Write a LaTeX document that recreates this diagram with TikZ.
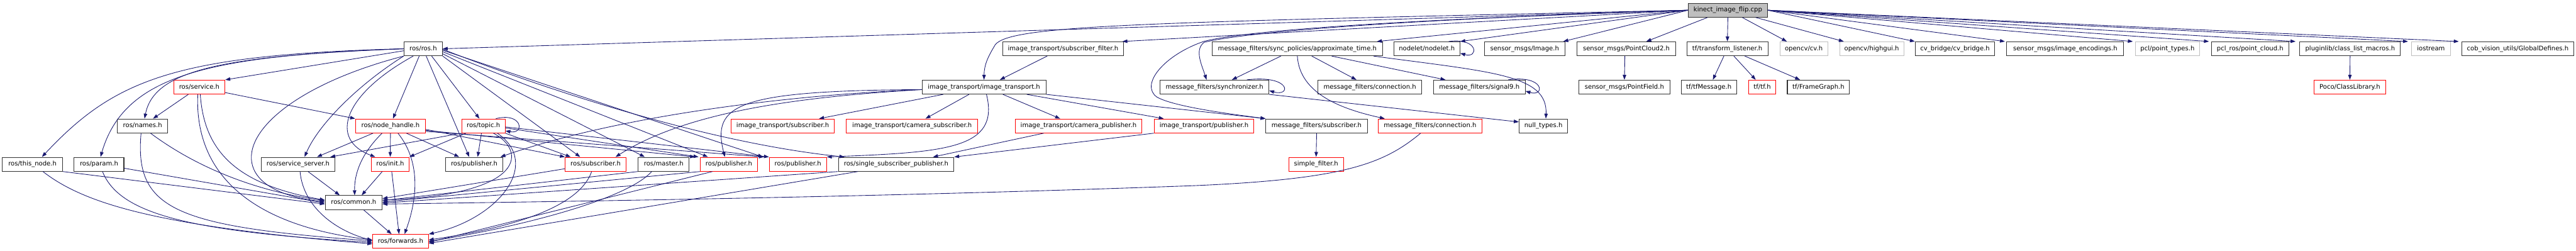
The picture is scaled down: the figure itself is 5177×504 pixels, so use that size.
\documentclass[tikz,border=0pt]{standalone}
\usepackage{fontspec}
\setmainfont{DejaVu Sans}
\usetikzlibrary{arrows.meta}
\definecolor{edgec}{RGB}{25,25,112}
\definecolor{redc}{RGB}{255,0,0}
\definecolor{grayc}{RGB}{191,191,191}
\definecolor{boxc}{RGB}{50,50,50}
\newcommand\mk[6]{\node[#5, minimum width={(#3)-(#2)}] (#1) at ({((#2)+(#3))/2},#4) {#6};}
\begin{document}
\begin{tikzpicture}[x=1pt,y=-1pt,
  box/.style={draw=boxc, line width=1.3pt, minimum height=28pt, inner sep=0pt,
    font=\fontsize{12.7}{14}\selectfont, text height=9.3pt, text depth=2.7pt, fill=white},
  rbox/.style={box, draw=redc},
  gbox/.style={box, draw=grayc},
  rootbox/.style={box, fill=grayc},
  e/.style={draw=edgec, line width=1.1pt, -{Triangle[length=10pt,width=7pt]}},
]
\useasboundingbox (0,0) rectangle (5177,504);
% row 0
\mk{root}{3393}{3552}{20.5}{rootbox}{kinect\_image\_flip.cpp}
% row 1
\mk{ros}{812}{889}{98}{box}{ros/ros.h}
\mk{itsf}{2015}{2258}{98}{box}{image\_transport/subscriber\_filter.h}
\mk{approx}{2436}{2778.5}{98}{box}{message\_filters/sync\_policies/approximate\_time.h}
\mk{nodelet}{2801}{2934}{98}{box}{nodelet/nodelet.h}
\mk{image}{2983}{3145}{98}{box}{sensor\_msgs/Image.h}
\mk{pc2}{3169}{3368}{98}{box}{sensor\_msgs/PointCloud2.h}
\mk{tfl}{3390}{3553}{98}{box}{tf/transform\_listener.h}
\mk{cv}{3577}{3673}{98}{gbox}{opencv/cv.h}
\mk{highgui}{3697}{3826}{98}{gbox}{opencv/highgui.h}
\mk{cvb}{3849}{4009}{98}{box}{cv\_bridge/cv\_bridge.h}
\mk{enc}{4033}{4268}{98}{box}{sensor\_msgs/image\_encodings.h}
\mk{pt}{4291}{4421}{98}{gbox}{pcl/point\_types.h}
\mk{pcr}{4444}{4600}{98}{box}{pcl\_ros/point\_cloud.h}
\mk{clm}{4622}{4824}{98}{box}{pluginlib/class\_list\_macros.h}
\mk{ios}{4846}{4925}{98}{gbox}{iostream}
\mk{gd}{4948}{5172}{98}{box}{cob\_vision\_utils/GlobalDefines.h}
% row 2
\mk{service}{349}{452}{175}{rbox}{ros/service.h}
\mk{it}{1853}{2102}{175}{box}{image\_transport/image\_transport.h}
\mk{sync}{2331.6}{2550}{175}{box}{message\_filters/synchronizer.h}
\mk{conn}{2649}{2857}{175}{box}{message\_filters/connection.h}
\mk{sig9}{2881}{3065}{175}{box}{message\_filters/signal9.h}
\mk{pf}{3173}{3356}{175}{box}{sensor\_msgs/PointField.h}
\mk{tfm}{3378.5}{3490}{175}{box}{tf/tfMessage.h}
\mk{tf}{3514}{3569}{175}{rbox}{tf/tf.h}
\mk{fg}{3592}{3717}{175}{box}{tf/FrameGraph.h}
\mk{poco}{4650}{4795}{175}{rbox}{Poco/ClassLibrary.h}
% row 3
\mk{names}{236}{337}{253}{box}{ros/names.h}
\mk{nh}{714.5}{855}{253}{rbox}{ros/node\_handle.h}
\mk{topic}{928}{1015}{253}{rbox}{ros/topic.h}
\mk{itsub}{1469}{1677}{253}{rbox}{image\_transport/subscriber.h}
\mk{itcs}{1701}{1965}{253}{rbox}{image\_transport/camera\_subscriber.h}
\mk{itcp}{2040}{2295}{253}{rbox}{image\_transport/camera\_publisher.h}
\mk{itp}{2319.5}{2520}{253}{rbox}{image\_transport/publisher.h}
\mk{mfsub}{2544}{2748}{253}{box}{message\_filters/subscriber.h}
\mk{connr}{2770}{2978}{253}{rbox}{message\_filters/connection.h}
\mk{null}{3053}{3150.5}{253}{box}{null\_types.h}
% row 4
\mk{thisnode}{5}{125.5}{330}{box}{ros/this\_node.h}
\mk{param}{149}{249}{330}{box}{ros/param.h}
\mk{ss}{525}{673}{330}{box}{ros/service\_server.h}
\mk{init}{746.5}{822}{330}{rbox}{ros/init.h}
\mk{pubb}{896}{1010}{330}{box}{ros/publisher.h}
\mk{sub}{1136}{1258}{330}{rbox}{ros/subscriber.h}
\mk{master}{1282.5}{1385}{330}{box}{ros/master.h}
\mk{pub1}{1407.5}{1522}{330}{rbox}{ros/publisher.h}
\mk{pub2}{1546}{1661}{330}{rbox}{ros/publisher.h}
\mk{ssp}{1685}{1917}{330}{box}{ros/single\_subscriber\_publisher.h}
\mk{sf}{2590}{2700}{330}{rbox}{simple\_filter.h}
% row 5, 6
\mk{common}{653.5}{768}{407}{box}{ros/common.h}
\mk{forwards}{749}{861}{485}{rbox}{ros/forwards.h}

% ---- edges from root
\draw[e] (root.west) -- (ros.east);
\draw[e] (root.west) -- ([xshift=-3pt]itsf.north east);
\draw[e] (root.west) .. controls (2300,45) and (2030,50) .. (2000,90) .. controls (1985,115) and (1978,130) .. (it.north);
\draw[e] (root.west) .. controls (2800,40) and (2500,65) .. (2420,85) .. controls (2400,100) and (2415,130) .. ([xshift=-16pt]sync.north);
\draw[e] (root.west) .. controls (2800,40) and (2500,62) .. (2420,83) .. controls (2340,110) and (2290,170) .. (2325,195) .. controls (2360,215) and (2480,230) .. (mfsub.north west);
\draw[e] (root.west) -- ([xshift=-12pt]approx.north east);
\draw[e] (root.west) -- (nodelet.north east);
\draw[e] (root.west) -- ([xshift=-4pt]image.north east);
\draw[e] ([xshift=-41pt]root.south) -- ([xshift=40pt]pc2.north);
\draw[e] (root.south) -- (tfl.north);
\draw[e] ([xshift=29pt]root.south) -- ([xshift=-34pt]cv.north);
\draw[e] ([xshift=56pt]root.south) -- ([xshift=-56pt]highgui.north);
\draw[e] (root.east) -- (cvb.north west);
\draw[e] (root.east) -- ([xshift=-3pt]enc.north west);
\draw[e] (root.east) -- ([xshift=-4pt]pt.north west);
\draw[e] (root.east) -- ([xshift=-4pt]pcr.north west);
\draw[e] (root.east) -- ([xshift=-8pt]clm.north west);
\draw[e] (root.east) -- ([xshift=-6pt]ios.north west);
\draw[e] (root.east) -- ([xshift=-6pt]gd.north west);

% ---- ros/ros.h
\draw[e] (ros.west) .. controls (350,110) and (230,160) .. ([xshift=19pt]thisnode.north);
\draw[e] (ros.west) .. controls (420,112) and (250,150) .. ([xshift=3pt]param.north);
\draw[e] (ros.west) .. controls (450,112) and (310,140) .. ([xshift=4pt]names.north);
\draw[e] ([yshift=-4pt]ros.west) -- (service.north east);
\draw[e] (ros.south west) .. controls (720,170) and (640,250) .. ([xshift=13pt]ss.north);
\draw[e] (ros.south west) .. controls (590,170) and (480,270) .. (510,340) .. controls (530,385) and (600,400) .. ([yshift=2pt]common.west);
\draw[e] ([xshift=-8pt]ros.south) -- ([xshift=5pt]nh.north);
\draw[e] ([xshift=-20pt]ros.south) .. controls (690,190) and (660,280) .. ([xshift=-30pt]init.north);
\draw[e] ([xshift=6pt]ros.south) -- ([xshift=-10pt]pubb.north);
\draw[e] ([xshift=17pt]ros.south) -- ([xshift=-8pt]topic.north);
\draw[e] (ros.south east) -- ([xshift=-31pt]sub.north);
\draw[e] ([yshift=-10pt]ros.east) -- ([xshift=-38pt]master.north);
\draw[e] ([yshift=-6pt]ros.east) -- ([xshift=-42pt]pub1.north);
\draw[e] ([yshift=-3pt]ros.east) -- ([xshift=-12pt]pub2.north west);
\draw[e] ([yshift=-1pt]ros.east) .. controls (1150,200) and (1450,290) .. ([xshift=-104pt]ssp.north);

% ---- ros/service.h
\draw[e] ([xshift=-22pt]service.south) -- ([xshift=21pt]names.north);
\draw[e] ([yshift=-11pt]service.east) -- (nh.north west);
\draw[e] ([xshift=2pt]service.south) .. controls (410,300) and (470,370) .. ([yshift=5pt]common.west);
\draw[e] ([xshift=-3pt]service.south) .. controls (390,360) and (520,455) .. ([yshift=3pt]forwards.west);

% ---- ros/names.h, this_node, param
\draw[e] ([xshift=16pt]names.south) .. controls (400,340) and (520,385) .. ([yshift=4pt]common.west);
\draw[e] ([xshift=-3pt]names.south) .. controls (270,420) and (350,455) .. ([yshift=1pt]forwards.west);
\draw[e] (thisnode.south east) -- ([yshift=-3pt]common.west);
\draw[e] ([xshift=21pt]thisnode.south) .. controls (170,410) and (320,455) .. ([yshift=-5pt]forwards.west);
\draw[e] ([yshift=-8pt]param.east) -- ([yshift=-1pt]common.west);
\draw[e] ([xshift=7pt]param.south) .. controls (240,430) and (380,465) .. ([yshift=-2pt]forwards.west);

% ---- ros/node_handle.h
\draw[e] ([xshift=-35pt]nh.south) -- ([xshift=38pt]ss.north);
\draw[e] (nh.south) -- (init.north);
\draw[e] ([xshift=-17pt]nh.south) .. controls (725,310) and (712,350) .. ([xshift=2pt]common.north);
\draw[e] ([xshift=15pt]nh.south) .. controls (850,330) and (835,410) .. ([xshift=8pt]forwards.north);
\draw[e] ([xshift=32pt]nh.south) -- ([xshift=-30pt]pubb.north);
\draw[e] ([yshift=-7pt]nh.east) -- (sub.north west);
\draw[e] ([yshift=-9pt]nh.east) -- ([xshift=-10pt]pub1.north west);
\draw[e] ([yshift=-11pt]nh.east) -- ([xshift=-10pt]pub2.north west);

% ---- ros/topic.h
\draw[e] (topic.south west) -- ([xshift=-10pt]ss.north east);
\draw[e] ([xshift=-35pt]topic.south) -- (init.north east);
\draw[e] ([xshift=-4pt]topic.south) -- ([xshift=7pt]pubb.north);
\draw[e] (topic.south east) -- ([xshift=-50pt]sub.north);
\draw[e] ([xshift=20pt]topic.south) .. controls (1055,300) and (1065,390) .. ([yshift=5pt]common.east);
\draw[e] ([xshift=28pt]topic.south) .. controls (1090,330) and (1000,440) .. (forwards.north east);
\draw[e] ([xshift=25pt]topic.north) .. controls (1050,225) and (1055,270) .. ([yshift=-10pt]topic.east);
\draw[e] ([yshift=-4pt]topic.east) -- ([xshift=-3pt]pub1.north west);
\draw[e] ([yshift=-2pt]topic.east) -- (pub2.north west);

% ---- row 4 to common / forwards
\draw[e] ([xshift=20pt]ss.south) -- ([xshift=-28pt]common.north);
\draw[e] ([xshift=4pt]ss.south) .. controls (610,420) and (680,465) .. ([yshift=2pt]forwards.west);
\draw[e] ([xshift=-16pt]init.south) -- ([xshift=16pt]common.north);
\draw[e] ([xshift=3pt]init.south) -- ([xshift=-3pt]forwards.north);
\draw[e] ([xshift=20pt]common.south) -- ([xshift=-18pt]forwards.north);
\draw[e] ([yshift=-9pt]sub.west) -- ([yshift=8pt]common.east);
\draw[e] ([xshift=-8pt]sub.south) .. controls (1170,400) and (1080,450) .. ([yshift=3pt]forwards.east);
\draw[e] (master.south west) -- ([yshift=4pt]common.east);
\draw[e] ([xshift=-24pt]master.south) .. controls (1260,400) and (1050,455) .. (forwards.east);
\draw[e] (pub1.south west) -- ([yshift=1pt]common.east);
\draw[e] ([xshift=-33pt]pub1.south) -- ([yshift=-2pt]forwards.east);
\draw[e] (ssp.south west) -- ([yshift=-1pt]common.east);
\draw[e] ([xshift=-77pt]ssp.south) -- ([yshift=-4pt]forwards.east);

% ---- image_transport
\draw[e] ([xshift=-32pt]itsf.south) -- ([xshift=32pt]it.north);
\draw[e] ([yshift=-5pt]it.west) .. controls (1600,190) and (1250,230) .. ([xshift=-5pt]pubb.north east);
\draw[e] ([yshift=-5pt]it.west) .. controls (1600,195) and (1380,225) .. ([xshift=40pt]sub.north);
\draw[e] ([yshift=-5pt]it.west) .. controls (1480,182) and (1430,210) .. ([xshift=-8pt]pub1.north);
\draw[e] ([xshift=5pt]it.south) .. controls (2010,300) and (1900,306) .. (pub2.north east);
\draw[e] ([xshift=-82pt]it.south) -- ([xshift=73pt]itsub.north);
\draw[e] ([xshift=-30pt]it.south) -- ([xshift=27pt]itcs.north);
\draw[e] ([xshift=38pt]it.south) -- ([xshift=-37pt]itcp.north);
\draw[e] ([xshift=86pt]it.south) -- ([xshift=20pt]itp.north west);
\draw[e] (it.south east) -- (mfsub.north west);
\draw[e] ([xshift=-70pt]itcp.south) -- ([xshift=74pt]ssp.north);
\draw[e] (itp.south west) -- (ssp.north east);

% ---- message_filters
\draw[e] ([xshift=65pt]sync.north) .. controls (2595,150) and (2595,195) .. ([yshift=-7pt]sync.east);
\draw[e] (sync.south east) -- ([yshift=8pt]null.west);
\draw[e] ([xshift=-33pt]approx.south) -- ([xshift=35pt]sync.north);
\draw[e] ([xshift=29pt]approx.south) -- ([xshift=-27pt]conn.north);
\draw[e] ([xshift=69pt]approx.south) -- ([xshift=-68pt]sig9.north);
\draw[e] ([xshift=153pt]approx.south) .. controls (3000,145) and (3110,150) .. ([xshift=5pt]null.north);
\draw[e] (approx.south) .. controls (2612,190) and (2700,220) .. ([xshift=-91pt]connr.north);
\draw[e] ([xshift=58pt]sig9.north) .. controls (3105,150) and (3105,195) .. ([yshift=-8pt]sig9.east);
\draw[e] ([xshift=44pt]nodelet.north) .. controls (2972,75) and (2972,118) .. ([yshift=-9pt]nodelet.east);
\draw[e] (mfsub.south) -- (sf.north);
\draw[e] ([xshift=-19pt]connr.south) .. controls (2780,330) and (2700,360) .. (2400,373) .. controls (1800,395) and (1200,404) .. ([yshift=-3pt]common.east);

% ---- others
\draw[e] ([xshift=-3pt]pc2.south) -- (pf.north);
\draw[e] ([xshift=-7pt]tfl.south) -- ([xshift=8pt]tfm.north);
\draw[e] ([xshift=13pt]tfl.south) -- ([xshift=-13pt]tf.north);
\draw[e] ([xshift=35pt]tfl.south) -- ([xshift=-37pt]fg.north);
\draw[e] (clm.south) -- (poco.north);
\end{tikzpicture}
\end{document}
